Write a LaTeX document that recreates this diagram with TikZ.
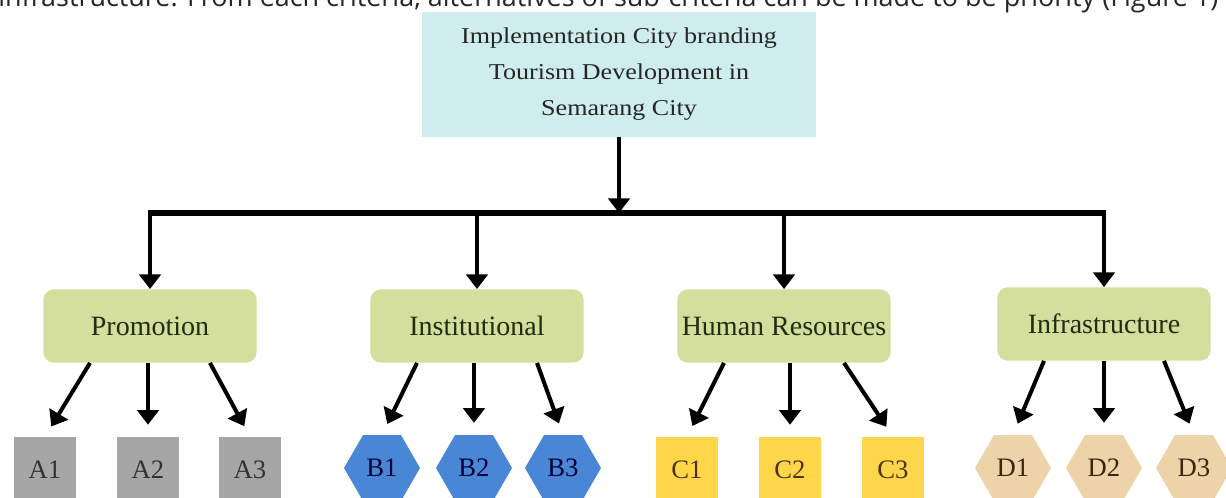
\documentclass[tikz,border=0pt]{standalone}
\usepackage{graphicx}
\usepackage{fontspec}
\setmainfont{Liberation Serif}
\newfontfamily\goalfont[FakeStretch=1.15]{Liberation Serif}
\newfontfamily\pagesans{Open Sans}
\usetikzlibrary{arrows.meta}
\usetikzlibrary{shapes.geometric}
\definecolor{goalcyan}{RGB}{207,236,238}
\definecolor{critgreen}{RGB}{212,222,157}
\definecolor{critink}{RGB}{34,44,16}
\definecolor{altgray}{RGB}{166,166,166}
\definecolor{altblue}{RGB}{74,134,214}
\definecolor{altyellow}{RGB}{255,214,74}
\definecolor{alttan}{RGB}{237,211,168}

\begin{document}
\begin{tikzpicture}[x=0.75pt,y=-0.75pt,
    crit/.style={rounded corners=8pt, fill=critgreen, text=critink, minimum width=160pt, minimum height=55pt, font=\fontsize{21}{25}\selectfont},
    altbox/.style={minimum width=47pt, minimum height=49.5pt, inner sep=0pt, font=\fontsize{20}{24}\selectfont},
    althex/.style={regular polygon, regular polygon sides=6, minimum size=57pt, inner sep=0pt, font=\fontsize{20}{24}\selectfont},
    conn/.style={line width=3pt, -{Triangle[width=16pt,length=11pt]}}]
    \useasboundingbox (0,0) rectangle (1226,498);

    % line of the page above the figure, cut at the top
    \node[anchor=base west, inner sep=0pt, text=black!85] (pageline) at (-2,7) {\resizebox{915pt}{!}{\pagesans infrastructure. From each criteria, alternatives of sub-criteria can be made to be priority (Figure 1)}};

    \node[fill=goalcyan, text=black!85, minimum width=296pt, minimum height=94pt, align=center, font=\fontsize{17}{27}\goalfont] (goal) at (619,74.5) {Implementation City branding\\Tourism Development in\\Semarang City};
    \coordinate (bus) at (620,213);

    \node[crit] (prom) at (150,326) {Promotion};
    \node[crit] (inst) at (477,326) {Institutional};
    \node[crit] (hr) at (784,326) {Human Resources};
    \node[crit] (infra) at (1104,324) {Infrastructure};

    \draw[conn] (goal.south) -- (goal.south |- bus);
    \draw[line width=4pt] ([xshift=-1.5pt]prom.north |- bus) -- ([xshift=1.5pt]infra.north |- bus);
    \draw[conn] (prom.north |- bus) -- (prom.north);
    \draw[conn] (inst.north |- bus) -- (inst.north);
    \draw[conn] (hr.north |- bus) -- (hr.north);
    \draw[conn] (infra.north |- bus) -- (infra.north);

    \node[altbox, fill=altgray, text=black!80] (A1) at (45,470) {A1};
    \node[altbox, fill=altgray, text=black!80] (A2) at (148,470) {A2};
    \node[altbox, fill=altgray, text=black!80] (A3) at (250,470) {A3};
    \node[althex, fill=altblue, text=blue!20!black] (B1) at (382,468) {B1};
    \node[althex, fill=altblue, text=blue!20!black] (B2) at (474,468) {B2};
    \node[althex, fill=altblue, text=blue!20!black] (B3) at (563,468) {B3};
    \node[altbox, fill=altyellow, text=brown!40!black] (C1) at (687,470) {C1};
    \node[altbox, fill=altyellow, text=brown!40!black] (C2) at (790,470) {C2};
    \node[altbox, fill=altyellow, text=brown!40!black] (C3) at (893,470) {C3};
    \node[althex, fill=alttan, text=brown!30!black] (D1) at (1013,468) {D1};
    \node[althex, fill=alttan, text=brown!30!black] (D2) at (1104,468) {D2};
    \node[althex, fill=alttan, text=brown!30!black] (D3) at (1194,468) {D3};

    \draw[conn, shorten >=9pt] ([xshift=-45pt]prom.south) -- (A1.north);
    \draw[conn, shorten >=9pt] (A2.north |- prom.south) -- (A2.north);
    \draw[conn, shorten >=9pt] ([xshift=45pt]prom.south) -- (A3.north);
    \draw[conn, shorten >=9pt] ([xshift=-45pt]inst.south) -- (B1.north);
    \draw[conn, shorten >=9pt] (B2.north |- inst.south) -- (B2.north);
    \draw[conn, shorten >=9pt] ([xshift=45pt]inst.south) -- (B3.north);
    \draw[conn, shorten >=9pt] ([xshift=-45pt]hr.south) -- (C1.north);
    \draw[conn, shorten >=9pt] (C2.north |- hr.south) -- (C2.north);
    \draw[conn, shorten >=9pt] ([xshift=45pt]hr.south) -- (C3.north);
    \draw[conn, shorten >=9pt] ([xshift=-45pt]infra.south) -- (D1.north);
    \draw[conn, shorten >=9pt] (D2.north |- infra.south) -- (D2.north);
    \draw[conn, shorten >=9pt] ([xshift=45pt]infra.south) -- (D3.north);
\end{tikzpicture}
\end{document}
